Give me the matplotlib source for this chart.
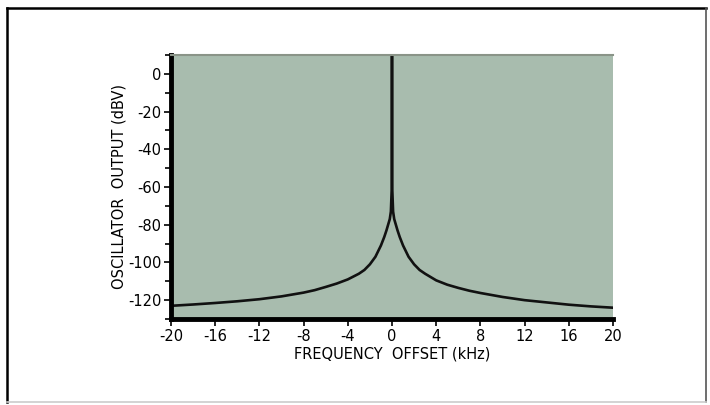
import matplotlib
matplotlib.use("Agg")
import matplotlib.pyplot as plt
from matplotlib.lines import Line2D
from matplotlib.ticker import MultipleLocator

# frequency offset (kHz) and oscillator output (dBV)
offset = [-20, -18, -16, -14, -12, -10, -8, -7, -6, -5, -4, -3, -2.5, -2, -1.5, -1,
          -0.7, -0.5, -0.3, -0.2, -0.1, -0.03, 0,
          0.03, 0.1, 0.2, 0.3, 0.5, 0.7, 1, 1.5, 2, 2.5, 3, 4, 5, 6, 7, 8,
          10, 12, 14, 16, 18, 20]
output = [-123, -122.3, -121.5, -120.6, -119.5, -118, -116, -114.7, -113, -111.2, -109, -106, -104, -101, -97, -91,
          -86.5, -83, -79, -77, -73, -62, 12,
          -62, -73, -77, -79, -83, -86.5, -91, -97, -101, -104, -106, -109.5, -111.8, -113.5, -115, -116.2,
          -118.3, -120, -121.2, -122.4, -123.3, -124]

xticks = [-20, -16, -12, -8, -4, 0, 4, 8, 12, 16, 20]
xtick_labels = ["-20", "-16", "-12", "-8", "-4", "0", "4", "8", "12", "16", "20"]
yticks = [0, -20, -40, -60, -80, -100, -120]

plt.rcParams['font.family'] = ['DejaVu Sans']
plt.rcParams['axes.unicode_minus'] = False

fig = plt.figure(figsize=(7.1, 4.05), dpi=100)
ax = fig.add_axes([0.2408, 0.2123, 0.6226, 0.652])
ax.set_facecolor('#a8bcae')

ax.plot(offset, output, color='#111111', lw=1.9, solid_joinstyle='round')

ax.set_xlim(-20, 20)
ax.set_ylim(-130, 10)
ax.set_xticks(xticks)
ax.set_xticklabels(xtick_labels)
ax.set_yticks(yticks)
ax.yaxis.set_minor_locator(MultipleLocator(10))

ax.spines['left'].set_linewidth(3.5)
ax.spines['bottom'].set_linewidth(3.5)
ax.spines['top'].set_color('#8a9488')
ax.spines['top'].set_linewidth(1.5)
ax.spines['right'].set_visible(False)

ax.tick_params(axis='both', direction='out', length=5, width=1.2, labelsize=10.5, pad=2)
ax.tick_params(axis='y', which='minor', length=4, width=1.2)

ax.set_xlabel('FREQUENCY  OFFSET (kHz)', fontsize=10.5, labelpad=2)
ax.set_ylabel('OSCILLATOR  OUTPUT (dBV)', fontsize=10.5, labelpad=1)

# outer frame
fig.add_artist(Line2D([7/710, 706/710], [1 - 8/405, 1 - 8/405], color='black', lw=1.8))
fig.add_artist(Line2D([7/710, 7/710], [1 - 8/405, 1 - 402/405], color='black', lw=1.8))
fig.add_artist(Line2D([706/710, 706/710], [1 - 8/405, 1 - 402/405], color='#555555', lw=1.2))
fig.add_artist(Line2D([7/710, 706/710], [1 - 402/405, 1 - 402/405], color='#cccccc', lw=1.2))

fig.savefig('out.png', dpi=100)
